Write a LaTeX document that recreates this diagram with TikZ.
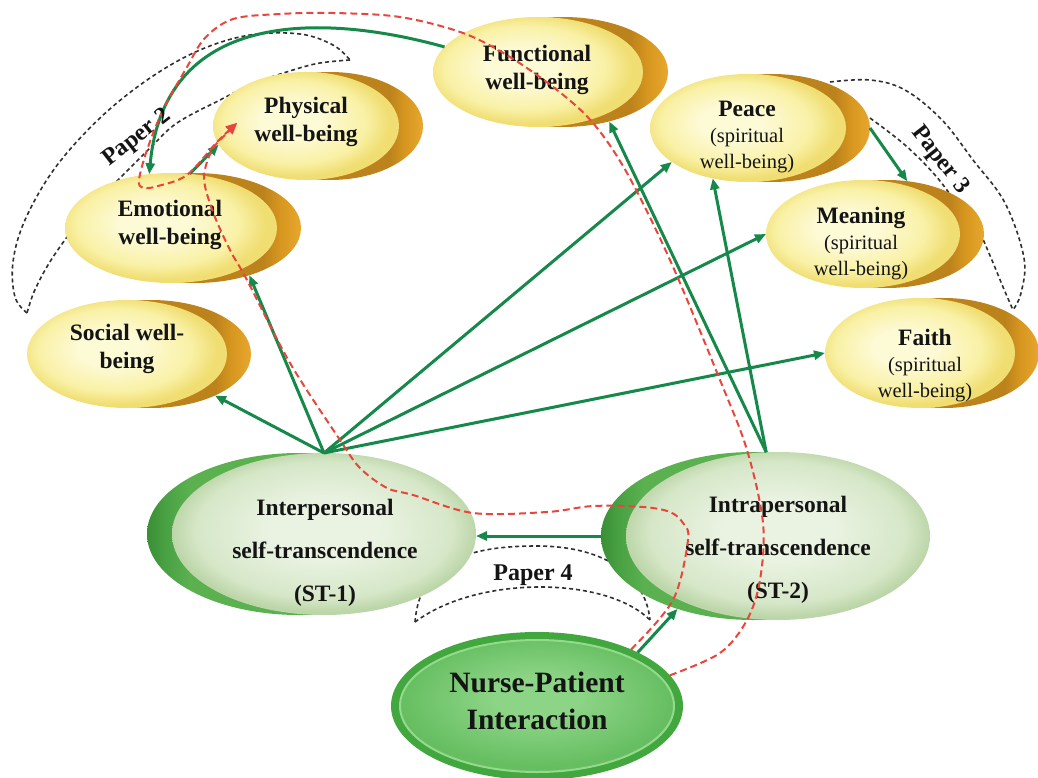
\documentclass[tikz,border=0pt]{standalone}
\usepackage{fontspec}
\setmainfont{Liberation Serif}
\usetikzlibrary{shapes.geometric,arrows.meta,calc}

% palette
\definecolor{ink}{HTML}{141414}
\definecolor{yA}{HTML}{FDFAD6}
\definecolor{yB}{HTML}{F9F1A6}
\definecolor{yC}{HTML}{F0DE72}
\definecolor{gd1}{HTML}{BC821C}
\definecolor{gd2}{HTML}{D6961F}
\definecolor{gd3}{HTML}{E8A82E}
\definecolor{gA}{HTML}{EAF3E2}
\definecolor{gB}{HTML}{D6E7C8}
\definecolor{gC}{HTML}{BDD6A9}
\definecolor{gk1}{HTML}{3A8F35}
\definecolor{gk2}{HTML}{48A143}
\definecolor{gk3}{HTML}{5BB150}
\definecolor{nO}{HTML}{43A73F}
\definecolor{nA}{HTML}{8CD486}
\definecolor{nB}{HTML}{66BE61}
\definecolor{nRim}{HTML}{93DA8C}
\definecolor{arrowgreen}{HTML}{16894A}
\definecolor{dashred}{HTML}{E8463C}
\definecolor{dashgray}{HTML}{303030}

% fills of the bubbles (TikZ maps 25bp..75bp of a shading onto the shape)
\pgfdeclareradialshading{yfill}{\pgfpoint{-5bp}{3bp}}{color(0bp)=(yA); color(8bp)=(yA); color(19bp)=(yB); color(25bp)=(yC); color(50bp)=(yC)}
\pgfdeclarehorizontalshading{goldfill}{100bp}{color(0bp)=(gd1); color(66bp)=(gd1); color(70bp)=(gd2); color(75bp)=(gd3); color(100bp)=(gd3)}
\pgfdeclareradialshading{gfront}{\pgfpoint{0bp}{2bp}}{color(0bp)=(gA); color(9bp)=(gA); color(21bp)=(gB); color(25bp)=(gC); color(50bp)=(gC)}
\pgfdeclarehorizontalshading{gdark}{100bp}{color(0bp)=(gk1); color(25bp)=(gk1); color(28bp)=(gk2); color(32bp)=(gk3); color(100bp)=(gk3)}
\pgfdeclareradialshading{nfill}{\pgfpoint{0bp}{4bp}}{color(0bp)=(nA); color(8bp)=(nA); color(25bp)=(nB); color(50bp)=(nB)}

\tikzset{
  el/.style 2 args={ellipse, inner sep=0pt, outer sep=0pt, minimum width=#1, minimum height=#2},
  yfront/.style={shade, shading=yfill},
  yback/.style={shade, shading=goldfill},
  gfrontel/.style={shade, shading=gfront},
  gbackel/.style={shade, shading=gdark},
  ttl/.style={font=\fontsize{23.5}{28}\selectfont\bfseries, align=center, text=ink},
  sub/.style={font=\fontsize{20.5}{26}\selectfont, align=center, text=ink},
  sttext/.style={font=\fontsize{23.5}{43}\selectfont\bfseries, align=center, text=ink},
  conn/.style={draw=arrowgreen, line width=3pt, -{Triangle[length=11pt,width=9pt]}},
  redpath/.style={draw=dashred, line width=2pt, dash pattern=on 7pt off 4pt,
                  -{Triangle[length=11pt,width=10pt]}},
  bracket/.style={draw=dashgray, line width=1.6pt, dash pattern=on 4pt off 3pt},
  paperlbl/.style={font=\fontsize{24}{28}\selectfont\bfseries, text=ink},
}

\begin{document}
\begin{tikzpicture}[x=1pt,y=-1pt]
\clip (0,0) rectangle (1038,778);
\fill[white] (0,0) rectangle (1038,778);

% ---- paper brackets (behind the bubbles)
\draw[bracket] plot[smooth, tension=0.6] coordinates {(27,313) (15,297) (13,262) (25,220) (55,168) (100,118) (150,78) (200,50) (250,35) (300,34) (333,45) (350,60)};
\draw[bracket] plot[smooth, tension=0.6] coordinates {(350,60) (320,63) (293,70) (255,83) (220,100) (177,123) (150,148) (118,180) (90,207) (67,237) (48,265) (34,292) (27,313)};

\draw[bracket] plot[smooth, tension=0.6] coordinates {(830,82) (870,80) (905,90) (942,120) (973,160) (1005,203) (1024,258) (1021,293) (1013,310)};
\draw[bracket] plot[smooth, tension=0.6] coordinates {(870,118) (905,145) (935,175) (958,205) (978,230) (991,258) (1003,287) (1013,310)};

\draw[bracket] (415,622) .. controls (420,560) and (470,546) .. (537,546) .. controls (600,546) and (645,572) .. (650,620);
\draw[bracket] (415,622) .. controls (450,596) and (500,587) .. (540,587) .. controls (590,587) and (630,600) .. (650,620);

% ---- well-being bubbles: gold crescent behind a pale yellow face
\node[el={186}{108}, yback] (physB) at (330,126) {};
\node[el={186}{108}, yfront] (phys) at (306,126) {};
\node[el={212}{110}, yback] (emoB) at (195,228) {};
\node[el={212}{110}, yfront] (emo) at (171,228) {};
\node[el={200}{108}, yback] (socB) at (151,354) {};
\node[el={200}{108}, yfront] (soc) at (127,354) {};
\node[el={210}{110}, yback] (funcB) at (563,72) {};
\node[el={210}{110}, yfront] (func) at (538,72) {};
\node[el={196}{108}, yback] (peaceB) at (772,128) {};
\node[el={196}{108}, yfront] (peace) at (748,128) {};
\node[el={194}{108}, yback] (meanB) at (887,234) {};
\node[el={194}{108}, yfront] (mean) at (863,234) {};
\node[el={190}{110}, yback] (faithB) at (944,353) {};
\node[el={190}{110}, yfront] (faith) at (920,353) {};

% ---- self-transcendence bubbles: dark green crescent on the left
\node[el={304}{162}, gbackel] (st1B) at (299,534) {};
\node[el={304}{162}, gfrontel] (st1) at (324,534) {};
\node[el={304}{168}, gbackel] (st2B) at (753,536) {};
\node[el={304}{168}, gfrontel] (st2) at (778,536) {};

% ---- nurse-patient interaction
\node[el={292}{148}, fill=nO] (nurse) at (537,706) {};
\node[el={274}{132}, shade, shading=nfill, draw=nRim, line width=2pt] (nurseIn) at (537,706) {};

% ---- texts
\node[ttl] (physT) at (306,122) {Physical\\well-being};
\node[ttl] (emoT) at (170,225) {Emotional\\well-being};
\node[ttl] (socT) at (127,349) {Social well-\\being};
\node[ttl] (funcT) at (537,70) {Functional\\well-being};
\node[sub] (peaceT) at (747,137) {{\bfseries\fontsize{23.5}{26}\selectfont Peace}\\(spiritual\\well-being)};
\node[sub] (meanT) at (861,244) {{\bfseries\fontsize{23.5}{26}\selectfont Meaning}\\(spiritual\\well-being)};
\node[sub] (faithT) at (925,366) {{\bfseries\fontsize{23.5}{26}\selectfont Faith}\\(spiritual\\well-being)};
\node[sttext] (st1T) at (325,553) {Interpersonal\\self-transcendence\\(ST-1)};
\node[sttext] (st2T) at (778,550) {Intrapersonal\\self-transcendence\\(ST-2)};
\node[font=\fontsize{29.5}{37}\selectfont\bfseries, align=center, text=ink] (nurseT) at (537,701) {Nurse-Patient\\Interaction};

% ---- green paths
\draw[conn] (st1.north) -- (socB.-33);
\draw[conn] (st1.north) -- (emoB.-41);
\draw[conn] (st1.north) -- (peace.-156);
\draw[conn] (st1.north) -- (mean.west);
\draw[conn] (st1.north) -- (faith.west);
\draw[conn] (st2.98) -- (funcB.-47);
\draw[conn] (st2.98) -- (peace.-125);
\draw[conn] (st2B.west) -- (st2B.west -| st1.east);
\draw[conn] (nurse.28) -- (st2B.-136);
\draw[conn] (peaceB.east) -- (meanB.69);
\draw[conn] (emo.71) -- (phys.192);
\draw[conn] (func.165) .. controls (330,15) and (165,5) .. (emo.112);

% ---- red dashed paths into physical well-being
\coordinate (redtip) at ($(phys.west)+(24,-3)$);
\draw[redpath] plot[smooth, tension=0.55] coordinates {(nurse.13) (720,653) (747,620) (760,580) (763,523) (747,450) (720,380) (670,260) (627,173) (593,123) (557,90) (510,57) (463,33) (400,17) (333,13) (280,14) (233,19) (205,38) (187,67) (163,110) (147,150) (139,180) (143,188) (158,186) (187,175) (217,142) (redtip)};
\draw[redpath] plot[smooth, tension=0.55] coordinates {(nurse.31) (673,600) (688,540) (683,523) (670,512) (643,507) (593,506) (547,512) (473,513) (413,495) (387,488) (360,468) (340,440) (290,363) (247,280) (230,250) (213,212) (204,178) (212,150) (226,134) (redtip)};

% ---- paper labels
\node[paperlbl, rotate=38] (p2) at (137,138) {Paper 2};
\node[paperlbl, rotate=-52] (p3) at (940,160) {Paper 3};
\node[paperlbl] (p4) at (533,575) {Paper 4};
\end{tikzpicture}
\end{document}
